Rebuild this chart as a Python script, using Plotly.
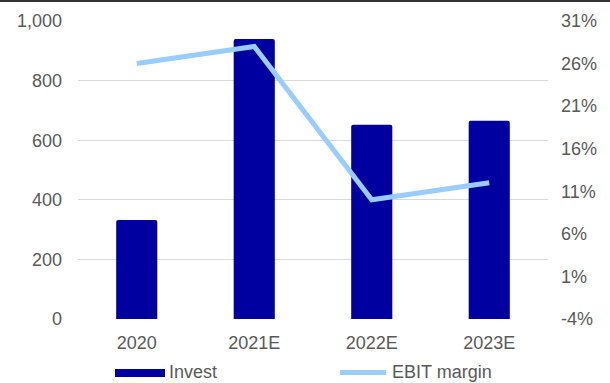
import plotly.graph_objects as go

categories = ["2020", "2021E", "2022E", "2023E"]
invest = [332, 940, 652, 665]
ebit_margin = [26, 28, 10, 12]
left_ticks = [0, 200, 400, 600, 800, 1000]
left_tick_labels = ["0", "200", "400", "600", "800", "1,000"]
right_ticks = [-4, 1, 6, 11, 16, 21, 26, 31]
right_tick_labels = ["-4%", "1%", "6%", "11%", "16%", "21%", "26%", "31%"]

W, H = 610, 383
L, R, T, B = 78, 62, 21, 64
PW, PH = W - L - R, H - T - B

def px2x(px):
    return (px - L) / PW

def px2y(py):
    return (H - B - py) / PH

BAR = "#0000a0"
LINE = "#99ccff"
TXT = "#595959"
FONT = "Liberation Sans, Arial, sans-serif"

fig = go.Figure()
fig.add_trace(go.Bar(x=categories, y=invest, name="Invest",
                     marker=dict(color=BAR, cornerradius=2, line=dict(width=0)),
                     yaxis="y"))
fig.add_trace(go.Scatter(x=categories, y=ebit_margin, name="EBIT margin",
                         mode="lines", line=dict(color=LINE, width=5),
                         yaxis="y2"))

fig.update_layout(
    width=W, height=H,
    margin=dict(l=L, r=R, t=T, b=B),
    paper_bgcolor="white", plot_bgcolor="white",
    showlegend=False,
    bargap=0.65,
    font=dict(family=FONT, size=18, color=TXT),
    xaxis=dict(showgrid=False, zeroline=False, showline=False, ticks="",
               ticklabelstandoff=11, tickfont=dict(size=18, color=TXT)),
    yaxis=dict(range=[0, 1000], tickvals=left_ticks, ticktext=left_tick_labels,
               showgrid=True, gridcolor="#d9d9d9", gridwidth=1, zeroline=False,
               showline=False, ticks="", ticklabelstandoff=15,
               tickfont=dict(size=18, color=TXT)),
    yaxis2=dict(range=[-4, 31], tickvals=right_ticks, ticktext=right_tick_labels,
                overlaying="y", side="right", showgrid=False, zeroline=False,
                showline=False, ticks="", ticklabelstandoff=12,
                tickfont=dict(size=18, color=TXT)),
)

shapes = [
    # top border line
    dict(type="line", xref="paper", yref="paper", x0=px2x(0), x1=px2x(W),
         y0=px2y(1), y1=px2y(1), line=dict(color="#333333", width=2)),
    # legend: bar symbol
    dict(type="rect", xref="paper", yref="paper", x0=px2x(115), x1=px2x(165),
         y0=px2y(377), y1=px2y(369), fillcolor=BAR, line=dict(width=0)),
    # legend: line symbol
    dict(type="line", xref="paper", yref="paper", x0=px2x(340), x1=px2x(386),
         y0=px2y(372.5), y1=px2y(372.5), line=dict(color=LINE, width=5)),
]
fig.update_layout(shapes=shapes)

fig.add_annotation(text="Invest", xref="paper", yref="paper", x=px2x(167),
                   y=px2y(372), xanchor="left", yanchor="middle", showarrow=False,
                   font=dict(size=18, color=TXT, family=FONT))
fig.add_annotation(text="EBIT margin", xref="paper", yref="paper", x=px2x(390),
                   y=px2y(372), xanchor="left", yanchor="middle", showarrow=False,
                   font=dict(size=18, color=TXT, family=FONT))

fig.write_html("out.html")
